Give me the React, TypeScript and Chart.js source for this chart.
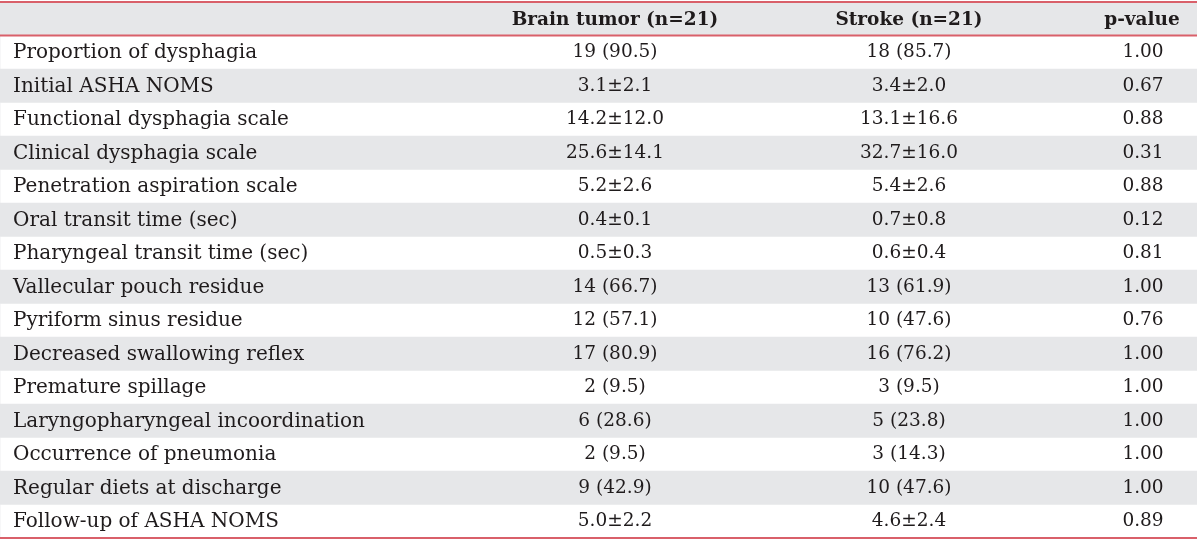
import React, { useEffect, useRef } from "react";
import { Chart, registerables } from "chart.js";
Chart.register(...registerables);

const headers = ["", "Brain tumor (n=21)", "Stroke (n=21)", "p-value"];
const rowLabels = [
  "Proportion of dysphagia",
  "Initial ASHA NOMS",
  "Functional dysphagia scale",
  "Clinical dysphagia scale",
  "Penetration aspiration scale",
  "Oral transit time (sec)",
  "Pharyngeal transit time (sec)",
  "Vallecular pouch residue",
  "Pyriform sinus residue",
  "Decreased swallowing reflex",
  "Premature spillage",
  "Laryngopharyngeal incoordination",
  "Occurrence of pneumonia",
  "Regular diets at discharge",
  "Follow-up of ASHA NOMS",
];
const brainTumor = [
  "19 (90.5)", "3.1±2.1", "14.2±12.0", "25.6±14.1", "5.2±2.6", "0.4±0.1", "0.5±0.3",
  "14 (66.7)", "12 (57.1)", "17 (80.9)", "2 (9.5)", "6 (28.6)", "2 (9.5)", "9 (42.9)", "5.0±2.2",
];
const stroke = [
  "18 (85.7)", "3.4±2.0", "13.1±16.6", "32.7±16.0", "5.4±2.6", "0.7±0.8", "0.6±0.4",
  "13 (61.9)", "10 (47.6)", "16 (76.2)", "3 (9.5)", "5 (23.8)", "3 (14.3)", "10 (47.6)", "4.6±2.4",
];
const pValues = [
  "1.00", "0.67", "0.88", "0.31", "0.88", "0.12", "0.81", "1.00", "0.76", "1.00", "1.00", "1.00", "1.00", "1.00", "0.89",
];

// layout (x-axis units = px of the table)
const X_MAX = 1197;
const colAnchors = [13, 615, 909, 1143];
const headerAnchors = [13, 615, 909, 1142];
const colAlign: CanvasTextAlign[] = ["left", "center", "center", "center"];
const colFontSize = [20, 18.5, 18.5, 18.5];
const colShift = [1, 0, 0, 0];

const FONT = '"DejaVu Serif", serif';
const TEXT_COLOR = "#1f1b1c";
const STRIPE = "#e6e7e9";
const RED = "#d9606a";

export default function App() {
  const ref = useRef<HTMLCanvasElement>(null);
  useEffect(() => {
    const categories = ["header", ...rowLabels];
    const stripes = categories.map((_, i) => (i % 2 === 0 ? X_MAX : 0));
    const columns = [rowLabels, brainTumor, stroke, pValues];

    const tablePlugin = {
      id: "tableText",
      afterDatasetsDraw(chart: any) {
        const { ctx, chartArea, scales } = chart;
        const xs = scales.x;
        const ys = scales.y;
        ctx.save();
        ctx.fillStyle = TEXT_COLOR;
        ctx.textBaseline = "middle";
        // header
        ctx.font = `bold 18.5px ${FONT}`;
        headers.forEach((h, c) => {
          if (!h) return;
          ctx.textAlign = colAlign[c];
          ctx.fillText(h, xs.getPixelForValue(headerAnchors[c]), ys.getPixelForValue(0) + 1);
        });
        columns.forEach((col, c) => {
          ctx.font = `${colFontSize[c]}px ${FONT}`;
          ctx.textAlign = colAlign[c];
          col.forEach((t, r) => {
            ctx.fillText(t, xs.getPixelForValue(colAnchors[c]), ys.getPixelForValue(r + 1) + colShift[c]);
          });
        });
        // red rules
        const half = (ys.getPixelForValue(1) - ys.getPixelForValue(0)) / 2;
        const headerBottom = ys.getPixelForValue(0) + half;
        ctx.strokeStyle = RED;
        ctx.lineWidth = 2;
        [chartArea.top, headerBottom, chartArea.bottom].forEach((y) => {
          ctx.beginPath();
          ctx.moveTo(chartArea.left, y);
          ctx.lineTo(chartArea.right, y);
          ctx.stroke();
        });
        ctx.restore();
      },
    };

    const chart = new Chart(ref.current!, {
      type: "bar",
      data: {
        labels: categories,
        datasets: [
          {
            data: stripes,
            backgroundColor: STRIPE,
            borderWidth: 0,
            barPercentage: 1,
            categoryPercentage: 1,
          },
        ],
      },
      options: {
        indexAxis: "y",
        animation: false,
        responsive: false,
        maintainAspectRatio: false,
        layout: { padding: { top: 2, bottom: 3, left: 0, right: 3 } },
        plugins: { legend: { display: false }, tooltip: { enabled: false } },
        scales: {
          x: { type: "linear", min: 0, max: X_MAX, display: false },
          y: { type: "category", display: false, offset: true },
        },
      },
      plugins: [tablePlugin],
    });
    return () => chart.destroy();
  }, []);
  return (
    <div style={{ position: "fixed", left: 0, top: 0, width: 1200, height: 541, background: "#fff" }}>
      <canvas ref={ref} width={1200} height={541} style={{ width: 1200, height: 541 }} />
    </div>
  );
}
